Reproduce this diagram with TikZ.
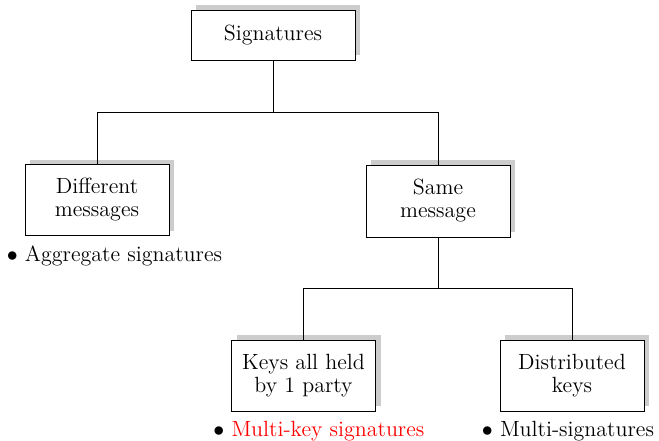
\documentclass[tikz,border=0pt]{standalone}
\usetikzlibrary{shadows}

\begin{document}
\begin{tikzpicture}[x=0.5pt,y=-0.5pt,
  every node/.style={font=\fontsize{11}{11.5}\selectfont},
  kind/.style={draw,thin,fill=white,align=center,inner sep=2pt,
    minimum width=72pt,minimum height=35.5pt,
    drop shadow={shadow xshift=2.5pt,shadow yshift=2.5pt,fill=black!20,opacity=1}},
  item/.style={anchor=north west,inner sep=0pt}]

\useasboundingbox (0,0) rectangle (659,440);

\node[kind,minimum width=82pt,minimum height=25pt] (sig) at (273,35) {Signatures};
\node[kind] (diff) at (97,200) {Different\\messages};
\node[kind,minimum height=36pt] (same) at (438,201) {Same\\message};
\node[kind] (held) at (303.5,375.5) {Keys all held\\by 1 party};
\node[kind] (dist) at (572,375.5) {Distributed\\keys};

\coordinate (j1) at (273,112);
\coordinate (j2) at (438,288);

\draw[thin] (sig.south) -- (j1);
\draw[thin] (diff.north) |- (j1);
\draw[thin] (same.north) |- (j1);
\draw[thin] (same.south) -- (j2);
\draw[thin] (held.north) |- (j2);
\draw[thin] (dist.north) |- (j2);

\node[item] (agg) at ([yshift=-4.5pt]diff.south west) {\llap{$\bullet$\ }Aggregate signatures};
\node[item,text=red] (mks) at ([yshift=-4.5pt]held.south west) {\llap{\color{black}$\bullet$\ }Multi-key signatures};
\node[item] (ms) at ([yshift=-4.5pt]dist.south west) {\llap{$\bullet$\ }Multi-signatures};

\end{tikzpicture}
\end{document}
